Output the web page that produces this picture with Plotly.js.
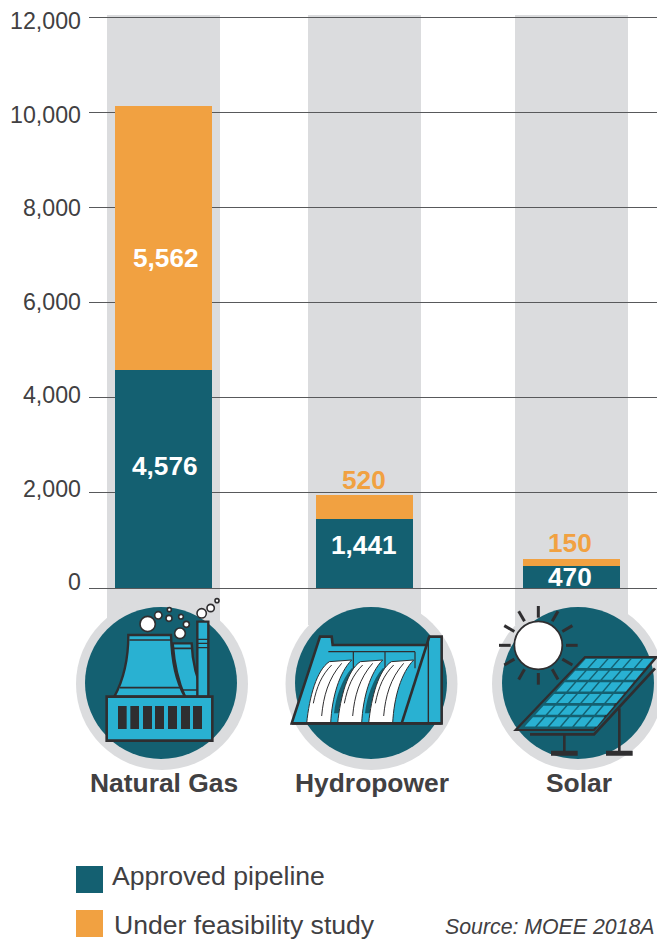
<!DOCTYPE html>
<html><head><meta charset="utf-8">
<script src="https://cdn.plot.ly/plotly-3.0.1.min.js"></script>
<style>html,body{margin:0;padding:0;background:#fff}#c{width:657px;height:939px}</style>
</head><body><div id="c"></div><script>
const categories=["Natural Gas","Hydropower","Solar"];
const approved=[4576,1441,470];
const feasibility=[5562,520,150];
const seriesNames=["Approved pipeline","Under feasibility study"];
const tickVals=[0,2000,4000,6000,8000,10000,12000];
const tickText=["0","2,000","4,000","6,000","8,000","10,000","12,000"];
const source="Source: MOEE 2018A";

const TEAL="#146071",ORANGE="#F1A141",GRAY="#DBDCDE",BLUE="#29B1D2",DARK="#2F2E30",TXT="#414042";
const L=89,R=657,T=10,B=588,PXU=571/12000;
const px=x=>(x-L)/(R-L), py=y=>(B-y)/(B-T);
const shapes=[];
function rect(x0,y0,x1,y1,fill,layer){shapes.push({type:"rect",xref:"paper",yref:"paper",x0:px(x0),x1:px(x1),y0:py(y0),y1:py(y1),fillcolor:fill,line:{width:0},layer:layer||"above"});}
function circ(cx,cy,r,fill,lw,layer){shapes.push({type:"circle",xref:"paper",yref:"paper",x0:px(cx-r),x1:px(cx+r),y0:py(cy+r),y1:py(cy-r),fillcolor:fill,line:{width:lw||0,color:DARK},layer:layer||"above"});}
function icon(ox,oy){
  const X=x=>ox+x/3,Y=y=>oy+y/3;
  return {
    path(d,fill,lw,color){
      const s=d.replace(/(-?[\d.]+),(-?[\d.]+)/g,(m,a,b)=>px(X(+a))+","+py(Y(+b)));
      shapes.push({type:"path",xref:"paper",yref:"paper",path:s,fillcolor:fill||"rgba(0,0,0,0)",line:{width:lw||0,color:color||DARK},layer:"above"});
    },
    circle(x,y,r,fill,lw){circ(X(x),Y(y),r/3,fill,lw);},
    box(a,b,c,d,fill){rect(X(a),Y(b),X(c),Y(d),fill);}
  };
}
[[107,220],[308,421],[515,628]].forEach(b=>rect(b[0],15,b[1],625,GRAY,"below"));
[[162,684,161,683],[371.5,684,371,683],[578,684,578,683]].forEach(c=>{circ(c[0],c[1],86,GRAY,0,"below");circ(c[2],c[3],76,TEAL,0,"above");});

const g=icon(60,580);
g.path("M338,190 L395,190 C397,250 410,300 435,350 L375,350 C352,300 342,240 338,190 Z",BLUE,2.4);
g.path("M340,205 L393,205 M368,330 L425,330",null,1.6);
g.path("M412,125 L445,125 L445,350 L412,350 Z",BLUE,2.4);
g.path("M412,178 L445,178 M412,190 L445,190 M412,203 L445,203",null,1.2);
g.path("M205,165 L333,165 C335,240 345,300 375,350 L163,350 C190,300 205,240 205,165 Z",BLUE,2.4);
g.path("M208,180 L331,180 M180,323 L360,323",null,1.6);
g.path("M140,350 L457,350 L457,482 L140,482 Z",BLUE,2.6);
[[174,200],[211,237],[249,276],[285,312],[324,351],[363,390],[399,426]].forEach(w=>g.box(w[0],378,w[1],447,DARK));
[[263,132,23],[295,106,11],[328,89,6],[327,115,9],[363,110,7],[379,133,9],[360,160,16],[425,100,14],[452,84,11],[471,62,6]].forEach(b=>g.circle(b[0],b[1],b[2],"#fff",1.6));

const h=icon(270,580);
h.path("M65,430 L150,170 L185,170 L188,195 L470,195 L478,170 L515,170 L515,430 Z",BLUE,2.6);
h.path("M175,215 L435,215 M250,215 L250,265 M345,215 L345,265 M435,215 L435,265",null,1.2);
h.path("M475,172 L475,430",null,1.4);
h.path("M470,195 L395,430",null,2.6);
[0,93].forEach(o=>h.path(`M${245+o},265 L${262+o},262 C${228+o},310 ${212+o},370 ${206+o},400 L${192+o},400 C${198+o},350 ${215+o},300 ${245+o},265 Z`,TEAL,0));
[0,93,186].forEach(o=>{
  h.path(`M${110+o},430 C${118+o},350 ${140+o},270 ${178+o},245 L${245+o},240 C${208+o},278 ${186+o},350 ${182+o},430 Z`,"#fff",1);
  h.path(`M${130+o},370 C${140+o},320 ${155+o},285 ${185+o},255 M${155+o},408 C${160+o},350 ${175+o},295 ${215+o},250`,null,1);
});
h.path("M65,430 L515,430",null,2.8);

const s=icon(470,580);
for(let i=0;i<12;i++){
  const a=i*Math.PI/6,c=Math.cos(a),n=Math.sin(a);
  s.path(`M${205+83*c},${196+83*n} L${205+118*c},${196+118*n}`,null,3);
}
s.circle(205,196,72,"#fff",1.8);
s.path("M345,231 L560,231 L372,450 L137,450 Z",TEAL,2.2);
const TL=[345,237],TR=[552,237],BL=[155,447],BR=[378,447];
const lerp=(a,b,t)=>[a[0]+(b[0]-a[0])*t,a[1]+(b[1]-a[1])*t];
for(let r=0;r<6;r++)for(let k=0;k<6;k++){
  const v0=r/6,v1=(r+0.78)/6,u0=(k+0.06)/6,u1=(k+0.9)/6;
  const q=(u,v)=>lerp(lerp(TL,TR,u),lerp(BL,BR,u),v);
  const A=q(u0,v0),B2=q(u1,v0),C=q(u1,v1),D=q(u0,v1);
  s.path(`M${A[0]},${A[1]} L${B2[0]},${B2[1]} L${C[0]},${C[1]} L${D[0]},${D[1]} Z`,BLUE,0);
}
s.path("M555,265 L372,463 L180,463",null,2.8);
s.path("M283,463 L283,520 M448,385 L448,520",null,2.6);
s.path("M243,520 L323,520 M408,520 L488,520",null,5);

rect(76,866,103,893,TEAL);
rect(76,910,103,937,ORANGE);

const ann=[];
function txt(t,x,y,size,color,anchor){ann.push({text:t,xref:"paper",yref:"paper",x:px(x),y:py(y),xanchor:anchor||"center",yanchor:"middle",showarrow:false,borderpad:0,font:{family:"Liberation Sans, Arial, sans-serif",size:size,color:color}});}
const fmt=v=>v.toLocaleString("en-US");
const b=t=>"<b>"+t+"</b>";
txt(b(fmt(feasibility[0])),166,258,26.2,"#fff");
txt(b(fmt(approved[0])),165,466,26.2,"#fff");
txt(b(fmt(feasibility[1])),363.5,480,26.2,ORANGE);
txt(b(fmt(approved[1])),364,545,26.2,"#fff");
txt(b(fmt(feasibility[2])),570,543,26.2,ORANGE);
txt(b(fmt(approved[2])),570,577,26.2,"#fff");
txt(b(categories[0]),164,783,26.4,TXT);
txt(b(categories[1]),371.5,783,26.4,TXT);
txt(b(categories[2]),578.5,783,26.4,TXT);
txt(seriesNames[0],111,876,26.6,TXT,"left");
txt(seriesNames[1],113,924.5,26.6,TXT,"left");
txt("<i>"+source+"</i>",444,926.5,21.3,TXT,"left");

const W=97/204;
const font={family:"Liberation Sans, Arial, sans-serif",color:TXT};
const labelPx=561/12000;
const yTop=(B-T)/PXU;
const off=[-W/2,-W/2-3/204,-W/2];
Plotly.newPlot("c",[
 {type:"bar",name:seriesNames[0],x:categories,y:approved,width:W,offset:off,marker:{color:TEAL,line:{width:0}}},
 {type:"bar",name:seriesNames[1],x:categories,y:feasibility,width:W,offset:off,marker:{color:ORANGE,line:{width:0}}},
 {type:"scatter",mode:"none",x:tickVals.map(()=>categories[0]),y:tickVals,yaxis:"y2",showlegend:false,hoverinfo:"skip"}
],{
 width:657,height:939,autosize:false,barmode:"stack",showlegend:false,
 margin:{l:L,r:657-R,t:T,b:939-B,pad:0},paper_bgcolor:"#fff",plot_bgcolor:"rgba(0,0,0,0)",font:font,
 xaxis:{type:"category",categoryorder:"array",categoryarray:categories,range:[-(163.5-L)/204,2+(R-571.5)/204],showticklabels:false,ticks:"",showgrid:false,zeroline:false,showline:false,fixedrange:true},
 yaxis:{range:[0,yTop],tickvals:tickVals,showticklabels:false,ticks:"",showgrid:true,gridcolor:"#58595B",gridwidth:1,zeroline:true,zerolinecolor:"#58595B",zerolinewidth:1,showline:false,fixedrange:true},
 yaxis2:{overlaying:"y",side:"left",anchor:"x",range:[-6/labelPx,(582-T)/labelPx],tickmode:"array",tickvals:tickVals,ticktext:tickText,tickfont:{size:23.2,color:TXT,family:font.family},ticks:"",showgrid:false,zeroline:false,showline:false,ticklabelstandoff:7,fixedrange:true},
 shapes:shapes,annotations:ann
},{displayModeBar:false,staticPlot:true});
</script></body></html>
